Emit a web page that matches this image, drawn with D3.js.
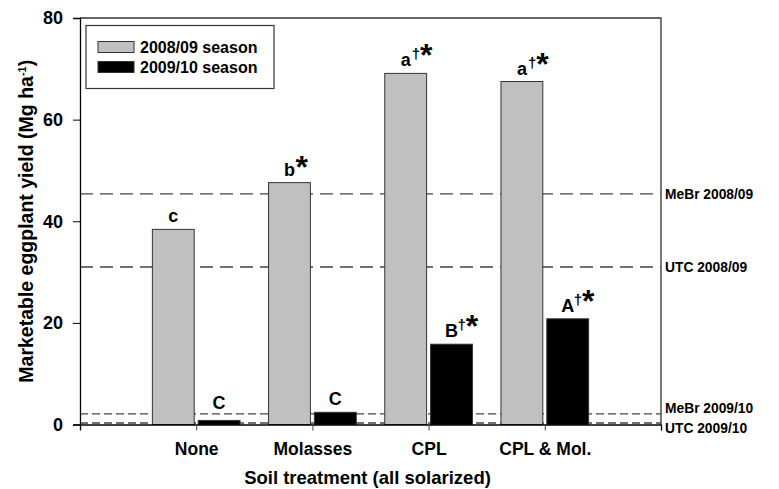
<!DOCTYPE html>
<html>
<head>
<meta charset="utf-8">
<script src="https://cdn.jsdelivr.net/npm/d3@7"></script>
<style>
  body { margin: 0; background: #fff; }
  svg { font-family: "Liberation Sans", Arial, sans-serif; font-weight: bold; }
</style>
</head>
<body>
<svg width="779" height="489"></svg>
<script>
  // data
  let categories = ["None", "Molasses", "CPL", "CPL & Mol."];
  let yield0809 = [38.4, 47.6, 69.1, 67.5];
  let yield0910 = [0.8, 2.4, 15.8, 20.8];
  let letters0809 = ["c", "b", "a", "a"];
  let sups0809 = ["", "*", "†*", "†*"];
  let letters0910 = ["C", "C", "B", "A"];
  let sups0910 = ["", "", "†*", "†*"];
  let refNames = ["MeBr 2008/09", "UTC 2008/09", "MeBr 2009/10", "UTC 2009/10"];
  let refValues = [45.4, 31.0, 2.1, 0.3];
  let yTicks = [0, 20, 40, 60, 80];
  let seasons = ["2008/09 season", "2009/10 season"];

  let svg = d3.select("svg");
  let pLeft = 80, pRight = 661, pTop = 18, pBottom = 424.5;

  let x = d3.scaleLinear().domain([0, 5]).range([pLeft, pRight]);
  let y = d3.scaleLinear().domain([0, 80]).range([pBottom, pTop]);
  let barW = x(0.36) - x(0);
  let gap = 2;
  let colors = ["#c0c0c0", "#000000"];

  // frame (top + right)
  svg.append("path")
    .attr("d", `M${pLeft},${pTop}H${pRight}V${pBottom}`)
    .attr("fill", "none").attr("stroke", "#333").attr("stroke-width", 1.3);

  // reference lines
  let dashes = ["13,7", "13,7", "8,4", "8,4"];
  let labelShift = [0, 0, -6, 5];
  refValues.forEach(function (v, i) {
    svg.append("line")
      .attr("x1", pLeft).attr("x2", pRight)
      .attr("y1", y(v)).attr("y2", y(v))
      .attr("stroke", "#444").attr("stroke-width", 1.3)
      .attr("stroke-dasharray", dashes[i]);
    svg.append("text")
      .attr("x", pRight + 4).attr("y", y(v) + labelShift[i])
      .attr("dy", "0.35em")
      .attr("font-size", 13.8)
      .text(refNames[i]);
  });

  // bars
  let g = svg.append("g");
  categories.forEach(function (c, i) {
    let cx = x(i + 1);
    g.append("rect")
      .attr("x", cx - gap - barW).attr("y", y(yield0809[i]))
      .attr("width", barW).attr("height", y(0) - y(yield0809[i]))
      .attr("fill", colors[0]).attr("stroke", "#333").attr("stroke-width", 1);
    g.append("rect")
      .attr("x", cx + gap).attr("y", y(yield0910[i]))
      .attr("width", barW).attr("height", y(0) - y(yield0910[i]))
      .attr("fill", colors[1]).attr("stroke", "#333").attr("stroke-width", 1);
  });

  // significance letters
  function mark(cx, v, letter, sup) {
    let ty = Math.min(y(v) - 7, y(0) - 16);
    svg.append("text")
      .attr("x", cx).attr("y", ty)
      .attr("text-anchor", "middle")
      .attr("font-size", 18)
      .text(letter);
    if (sup === "") return;
    let t = svg.append("text")
      .attr("x", cx + 6).attr("y", ty);
    if (sup.indexOf("†") >= 0) {
      t.append("tspan").attr("font-size", 15).attr("dy", -7).text("†");
      t.append("tspan").attr("font-size", 32).attr("dy", 7).text("*");
    } else {
      t.append("tspan").attr("font-size", 32).attr("dy", 2).text("*");
    }
  }
  categories.forEach(function (c, i) {
    let cx = x(i + 1);
    mark(cx - gap - barW / 2, yield0809[i], letters0809[i], sups0809[i]);
    mark(cx + gap + barW / 2, yield0910[i], letters0910[i], sups0910[i]);
  });

  // y axis
  let yAxis = svg.append("g")
    .attr("transform", `translate(${pLeft},0)`)
    .call(d3.axisLeft(y).tickValues(yTicks).tickSize(7).tickPadding(10));
  yAxis.selectAll("text").attr("font-size", 18).attr("font-family", null).attr("fill", "#000");
  yAxis.select(".domain").attr("stroke-width", 1.3);

  // x axis
  let xAxis = svg.append("g")
    .attr("transform", `translate(0,${pBottom})`)
    .call(d3.axisBottom(x).tickValues([1, 2, 3, 4])
      .tickFormat((d) => categories[d - 1]).tickSize(6).tickPadding(12));
  xAxis.selectAll("text").attr("font-size", 17.5).attr("font-family", null).attr("fill", "#000");
  xAxis.select(".domain").attr("stroke-width", 1.3);
  xAxis.selectAll(".tick line").attr("stroke", "#444");

  // axis titles
  svg.append("text")
    .attr("x", (pLeft + pRight) / 2 - 3).attr("y", 478)
    .attr("text-anchor", "middle").attr("dy", "0.35em")
    .attr("font-size", 18.5)
    .text("Soil treatment (all solarized)");

  let yt = svg.append("text")
    .attr("transform", `translate(26,${(pTop + pBottom) / 2}) rotate(-90)`)
    .attr("text-anchor", "middle").attr("dy", "0.35em")
    .attr("font-size", 19.5);
  yt.append("tspan").text("Marketable eggplant yield (Mg ha");
  yt.append("tspan").attr("font-size", 11).attr("dy", -7).text("-1");
  yt.append("tspan").attr("dy", 7).text(")");

  // legend
  let lg = svg.append("g");
  lg.append("rect")
    .attr("x", 86).attr("y", 25.5).attr("width", 188).attr("height", 63)
    .attr("fill", "#fff").attr("stroke", "#333").attr("stroke-width", 1.2);
  seasons.forEach(function (s, i) {
    let ly = 47 + i * 20;
    lg.append("rect")
      .attr("x", 98).attr("y", ly - 5.5).attr("width", 36).attr("height", 11)
      .attr("fill", colors[i]).attr("stroke", "#333").attr("stroke-width", 1);
    lg.append("text")
      .attr("x", 140).attr("y", ly).attr("dy", "0.35em")
      .attr("font-size", 16)
      .text(s);
  });
</script>
</body>
</html>
